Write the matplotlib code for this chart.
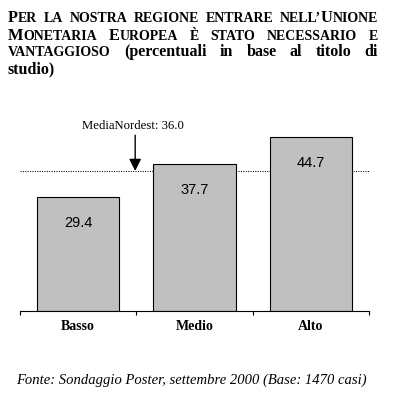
import matplotlib.pyplot as plt
import numpy as np

# data
categories = ['Basso', 'Medio', 'Alto']
values = [29.4, 37.7, 44.7]
media_nordest = 36.0
media_label = 'MediaNordest: 36.0'
source = 'Fonte: Sondaggio Poster, settembre 2000 (Base: 1470 casi)'

# title as words made of (text, kind) pieces: L = big cap, S = small cap, N = normal bold
title_lines = [
    [[('P', 'L'), ('ER', 'S')], [('LA', 'S')], [('NOSTRA', 'S')], [('REGIONE', 'S')],
     [('ENTRARE', 'S')], [('NELL\u2019', 'S'), ('U', 'L'), ('NIONE', 'S')]],
    [[('M', 'L'), ('ONETARIA', 'S')], [('E', 'L'), ('UROPEA', 'S')], [('\u00c8', 'S')],
     [('STATO', 'S')], [('NECESSARIO', 'S')], [('E', 'S')]],
    [[('VANTAGGIOSO', 'S')], [('(percentuali', 'N')], [('in', 'N')], [('base', 'N')],
     [('al', 'N')], [('titolo', 'N')], [('di', 'N')]],
    [[('studio)', 'N')]],
]
sizes = {'L': 11.8, 'S': 10.0, 'N': 11.5}

W, H = 395, 404
fig = plt.figure(figsize=(W / 100, H / 100), dpi=100)
serif = 'Liberation Serif'

# axes: y=0 at 311 px from top, 3.89 px per unit
ymax = 50
px_per = 3.89
ax = fig.add_axes([20 / W, (H - 311) / H, 349 / W, ymax * px_per / H])
x = np.arange(len(categories))
ax.axhline(media_nordest, color='black', lw=0.75, ls=(0, (1, 1.3)), zorder=1)
ax.bar(x, values, width=0.71, color='#c0c0c0', edgecolor='black', lw=0.8, zorder=2)
for i, v in enumerate(values):
    ax.text(i, v - 6.7, f'{v:.1f}', ha='center', va='center',
            family='Liberation Sans', fontsize=10.5, zorder=3)

ax.set_xlim(-0.5, 2.5)
ax.set_ylim(0, ymax)
for s in ['top', 'right', 'left']:
    ax.spines[s].set_visible(False)
ax.spines['bottom'].set_linewidth(0.8)
ax.set_yticks([])
ax.set_xticks([-0.5, 0.5, 1.5, 2.5])
ax.set_xticklabels([])
ax.tick_params(axis='x', which='major', length=3, width=0.8, direction='out')
ax.set_xticks(x, minor=True)
ax.set_xticklabels(categories, minor=True, family=serif, fontweight='bold', fontsize=10)
ax.tick_params(axis='x', which='minor', length=0, pad=6.5)

# mean annotation
ax.text(0.47, 47.6, media_label, ha='center', va='center', family=serif, fontsize=9.2,
        clip_on=False)
ax.annotate('', xy=(0.49, media_nordest), xytext=(0.49, 45.2),
            arrowprops=dict(arrowstyle='-|>', color='black', lw=1,
                            mutation_scale=18, shrinkA=0, shrinkB=0))

# justified small-caps title
fig.canvas.draw()
renderer = fig.canvas.get_renderer()
x0, x1 = 8, 378
baselines = [22.5, 39.5, 56.5, 73]
for li, line in enumerate(title_lines):
    words = []
    for word in line:
        pieces = []
        for txt, kind in word:
            t = fig.text(0, 1 - baselines[li] / H, txt, family=serif, fontweight='bold',
                         fontsize=sizes[kind], va='baseline', ha='left')
            w = t.get_window_extent(renderer).width
            pieces.append((t, w))
        words.append(pieces)
    widths = [sum(w for _, w in p) for p in words]
    if li < len(title_lines) - 1 and len(words) > 1:
        gap = (x1 - x0 - sum(widths)) / (len(words) - 1)
    else:
        gap = 4
    cx = x0
    for pieces, ww in zip(words, widths):
        px = cx
        for t, w in pieces:
            t.set_x(px / W)
            px += w
        cx += ww + gap

fig.text(191.5 / W, 1 - 380 / H, source, ha='center', va='center', family=serif,
         style='italic', fontsize=10.5)

plt.savefig('out.png', dpi=100)
